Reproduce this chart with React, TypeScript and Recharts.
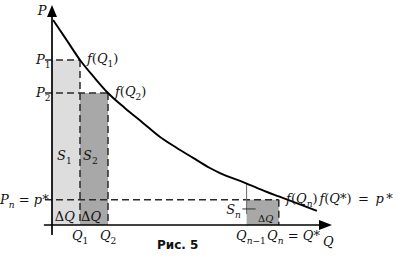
import { ComposedChart, Line, XAxis, YAxis, ReferenceArea, ReferenceLine, ReferenceDot } from "recharts";

// demand curve (Q, P in chart units)
const curveQ = [0.04, 0.5, 1, 1.5, 2, 2.6, 3.25, 3.86, 4.46, 5.04, 5.64, 6.0, 6.89, 7.68, 8.1, 9.46];
const curveP = [9.32, 8.45, 7.5, 6.72, 6.0, 5.32, 4.64, 4.0, 3.5, 3.05, 2.59, 2.36, 1.92, 1.5, 1.3, 0.64];

const Q1 = 1;
const Q2 = 2;
const Qn1 = 6.95;
const Qn = 8.1;
const P1 = 7.5;
const P2 = 6;
const Pn = 1.15;
const Pcurve_n1 = 1.89;

const qMax = 10;
const pMax = 10;

// text: [q, p, parts, anchor, size]
// part kinds: i italic, r roman, b italic subscript, B roman subscript
type Part = [string, string];
type Lbl = [number, number, Part[], string?, number?];

const labels: Lbl[] = [
  [-0.2, 9.55, [["P", "i"]], "end"],
  [-0.05, 7.32, [["P", "i"], ["1", "B"]], "end"],
  [-0.05, 5.82, [["P", "i"], ["2", "B"]], "end"],
  [-0.12, 0.95, [["P", "i"], ["n", "b"], [" = ", "r"], ["p", "i"], ["*", "r"]], "end"],
  [1.25, 7.36, [["f", "i"], ["(", "r"], ["Q", "i"], ["1", "B"], [")", "r"]]],
  [2.25, 5.86, [["f", "i"], ["(", "r"], ["Q", "i"], ["2", "B"], [")", "r"]]],
  [0.18, 2.95, [["S", "i"], ["1", "B"]]],
  [1.11, 2.95, [["S", "i"], ["2", "B"]]],
  [0.1, 0.2, [["Δ", "r"], ["Q", "i"]]],
  [1.04, 0.2, [["Δ", "r"], ["Q", "i"]]],
  [0.71, -0.68, [["Q", "i"], ["1", "B"]]],
  [1.71, -0.68, [["Q", "i"], ["2", "B"]]],
  [8.36, 1.0, [["f", "i"], ["(", "r"], ["Q", "i"], ["n", "b"], [")", "r"]]],
  [9.55, 1.0, [["f", "i"], ["(", "r"], ["Q", "i"], ["*", "r"], [")\u2002=\u2002", "r"], ["p", "i"], ["\u2009*", "r"]]],
  [6.22, 0.5, [["S", "i"], ["n", "b"]]],
  [7.36, 0.14, [["Δ", "r"], ["Q", "i"]], "start", 10],
  [6.57, -0.68, [["Q", "i"], ["n", "b"], ["−1", "B"]]],
  [7.68, -0.68, [["Q", "i"], ["n", "b"], [" = ", "r"], ["Q", "i"], ["*", "r"]]],
  [9.68, -0.95, [["Q", "i"]]],
];

const data = curveQ.map((q, i) => ({ q, p: curveP[i] }));

const MathText = ({ x, y, parts, anchor = "start", size = 13 }: any) => {
  let shift = 0;
  return (
    <text x={x} y={y} textAnchor={anchor} fontFamily="'DejaVu Serif', serif" fontSize={size} fill="#111">
      {parts.map(([t, k]: Part, i: number) => {
        const sub = k === "b" || k === "B";
        const s = sub ? Math.round(size * 0.28) : 0;
        const dy = s - shift;
        shift = s;
        return (
          <tspan key={i} dy={dy} fontStyle={k === "i" || k === "b" ? "italic" : "normal"} fontSize={sub ? size * 0.7 : size}>
            {t}
          </tspan>
        );
      })}
    </text>
  );
};

const dash = { stroke: "#2a2a2a", strokeWidth: 1.5, strokeDasharray: "7 4", ifOverflow: "visible" as const };

const App = () => {
  return (
    <div style={{ position: "absolute", left: 0, top: 0, background: "#fff" }}>
      <ComposedChart width={400} height={260} data={data} margin={{ top: 5, right: 68, bottom: 35, left: 52 }}>
        <XAxis dataKey="q" type="number" domain={[0, qMax]} hide />
        <YAxis type="number" domain={[0, pMax]} hide />

        <ReferenceArea x1={0} x2={Q1} y1={0} y2={P1} fill="#dddddd" fillOpacity={1} stroke="none" />
        <ReferenceArea x1={Q1} x2={Q2} y1={0} y2={P2} fill="#a8a8a8" fillOpacity={1} stroke="none" />
        <ReferenceArea x1={Qn1} x2={Qn} y1={0} y2={Pn} fill="#a8a8a8" fillOpacity={1} stroke="none" />

        <ReferenceLine segment={[{ x: -0.25, y: P1 }, { x: Q1, y: P1 }]} {...dash} />
        <ReferenceLine segment={[{ x: Q1, y: P1 }, { x: Q1, y: 0 }]} {...dash} />
        <ReferenceLine segment={[{ x: -0.25, y: P2 }, { x: Q2, y: P2 }]} {...dash} />
        <ReferenceLine segment={[{ x: Q2, y: P2 }, { x: Q2, y: 0 }]} {...dash} />
        <ReferenceLine segment={[{ x: -0.25, y: Pn }, { x: Qn, y: Pn }]} {...dash} />
        <ReferenceLine segment={[{ x: Qn, y: Pn }, { x: Qn, y: 0 }]} {...dash} />

        <ReferenceLine segment={[{ x: Qn1, y: Pcurve_n1 }, { x: Qn1, y: 0.5 }]} stroke="#666" strokeWidth={1} ifOverflow="visible" />
        <ReferenceLine segment={[{ x: 6.8, y: 0.73 }, { x: 7.27, y: 0.73 }]} stroke="#333" strokeWidth={1} ifOverflow="visible" />

        <ReferenceLine segment={[{ x: -0.29, y: 0 }, { x: qMax - 0.3, y: 0 }]} stroke="#000" strokeWidth={1.7} ifOverflow="visible" />
        <ReferenceLine segment={[{ x: 0, y: -0.45 }, { x: 0, y: pMax - 0.3 }]} stroke="#000" strokeWidth={1.7} ifOverflow="visible" />
        <ReferenceDot
          x={qMax}
          y={0}
          ifOverflow="visible"
          shape={(p: any) => <polygon points={`${p.cx},${p.cy} ${p.cx - 13},${p.cy - 5} ${p.cx - 13},${p.cy + 5}`} fill="#000" />}
        />
        <ReferenceDot
          x={0}
          y={pMax}
          ifOverflow="visible"
          shape={(p: any) => <polygon points={`${p.cx},${p.cy} ${p.cx - 5},${p.cy + 12} ${p.cx + 5},${p.cy + 12}`} fill="#000" />}
        />

        <Line dataKey="p" type="monotone" stroke="#000" strokeWidth={1.9} dot={false} isAnimationActive={false} />

        {labels.map(([q, p, parts, anchor, size], i) => (
          <ReferenceDot
            key={i}
            x={q}
            y={p}
            ifOverflow="visible"
            shape={(d: any) => <MathText x={d.cx} y={d.cy} parts={parts} anchor={anchor} size={size} />}
          />
        ))}
        <ReferenceDot
          x={3.75}
          y={-1.09}
          ifOverflow="visible"
          shape={(d: any) => (
            <text x={d.cx} y={d.cy} fontFamily="'DejaVu Sans', sans-serif" fontSize={12} fontWeight={600} fill="#111">
              Рис. 5
            </text>
          )}
        />
      </ComposedChart>
    </div>
  );
};

export default App;
